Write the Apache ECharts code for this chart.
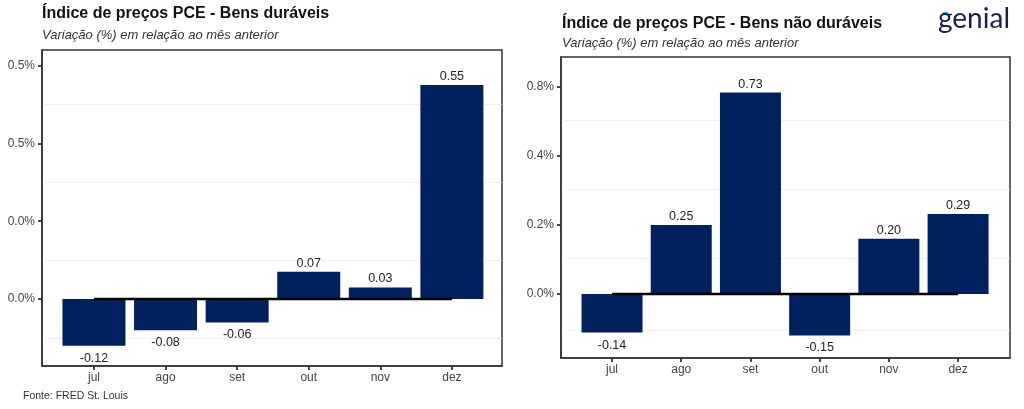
<!DOCTYPE html>
<html><head><meta charset="utf-8">
<script src="https://cdn.jsdelivr.net/npm/echarts@6/dist/echarts.min.js"></script>
<style>html,body{margin:0;padding:0;background:#fff}#c{width:1024px;height:409px}</style>
</head><body><div id="c"></div>
<script>
const months = ['jul','ago','set','out','nov','dez'];
const duraveis = [-0.12,-0.08,-0.06,0.07,0.03,0.55];
const naoDuraveis = [-0.14,0.25,0.73,-0.15,0.20,0.29];
const leftTicks = [0,0.2,0.4,0.6];
const leftTickLabels = ['0.0%','0.0%','0.5%','0.5%'];
const leftMinor = [-0.1,0.1,0.3,0.5];
const rightTicks = [0,0.25,0.5,0.75];
const rightTickLabels = ['0.0%','0.2%','0.4%','0.8%'];
const rightMinor = [-0.125,0.125,0.375,0.625];
const zeroLine = [0,0,0,0,0,0];

const FONT = '"Liberation Sans", Arial, sans-serif';
const NAVY = '#01215e';
const idx = months.map((m,i)=>i);

function lbl(ticks, labels){
  return v => { const k = ticks.findIndex(t=>Math.abs(t-v)<1e-9); return k>=0 ? labels[k] : ''; };
}
function xAx(gi,min,max){
  return {type:'value', gridIndex:gi, min:min, max:max,
    axisLine:{show:true,onZero:false,lineStyle:{color:'#333',width:1.5}},
    axisTick:{show:true,customValues:idx,length:4,lineStyle:{color:'#333',width:1.8}},
    axisLabel:{customValues:idx,formatter:v=>months[Math.round(v)],color:'#444',fontSize:12,fontFamily:FONT,margin:6},
    splitLine:{show:false}};
}
function yAx(gi,min,max,ticks,labels){
  return {type:'value', gridIndex:gi, min:min, max:max,
    axisLine:{show:true,onZero:false,lineStyle:{color:'#333',width:1.5}},
    axisTick:{show:true,customValues:ticks,length:4,lineStyle:{color:'#333',width:1.8}},
    axisLabel:{customValues:ticks,formatter:lbl(ticks,labels),color:'#444',fontSize:12,fontFamily:FONT,margin:7},
    splitLine:{show:false}};
}
function bars(gi,vals,w){
  return {type:'bar', xAxisIndex:gi, yAxisIndex:gi, barWidth:w, z:2,
    itemStyle:{color:NAVY},
    data: vals.map((v,i)=>({value:[i,v], label:{position: v<0?'bottom':'top', distance: v<0?6:2}})),
    label:{show:true, color:'#222', fontSize:12.5, fontFamily:FONT,
      formatter:p=>p.value[1].toFixed(2)}};
}
function zero(gi){
  return {type:'line', xAxisIndex:gi, yAxisIndex:gi, z:3, symbol:'none', silent:true,
    lineStyle:{color:'#000',width:2.5}, data: zeroLine.map((v,i)=>[i,v])};
}
function minor(gi,vals){
  return {type:'line', xAxisIndex:gi, yAxisIndex:gi, z:0, symbol:'none', silent:true, data:[],
    markLine:{z:0,silent:true,symbol:'none',label:{show:false},animation:false,
      lineStyle:{color:'#ececec',width:0.8,type:'solid'},
      data: vals.map(v=>({yAxis:v}))}};
}

const chart = echarts.init(document.getElementById('c'), null, {renderer:'canvas'});
chart.setOption({
  animation:false,
  backgroundColor:'#fff',
  title:[
    {text:'Índice de preços PCE - Bens duráveis', left:42, top:6, padding:0, textStyle:{fontFamily:FONT,fontWeight:'bold',fontSize:16,color:'#111'}},
    {text:'Variação (%) em relação ao mês anterior', left:42, top:29, padding:0, textStyle:{fontFamily:FONT,fontStyle:'italic',fontWeight:'normal',fontSize:13,color:'#333'}},
    {text:'Índice de preços PCE - Bens não duráveis', left:562, top:16, padding:0, textStyle:{fontFamily:FONT,fontWeight:'bold',fontSize:16,color:'#111'}},
    {text:'Variação (%) em relação ao mês anterior', left:562, top:37, padding:0, textStyle:{fontFamily:FONT,fontStyle:'italic',fontWeight:'normal',fontSize:13,color:'#333'}},
    {text:'Fonte: FRED St. Louis', left:23, top:391, padding:0, textStyle:{fontFamily:FONT,fontWeight:'normal',fontSize:10.5,color:'#333'}},
    {text:'genial', left:938, top:5, padding:0, textStyle:{fontFamily:'Lato, "Open Sans", sans-serif',fontWeight:'normal',fontSize:28,color:'#1b1f4e'}}
  ],
  graphic:[
    {type:'rect', shape:{x:943,y:12,width:5,height:2}, style:{fill:'#29b6e8'}}
  ],
  grid:[
    {left:42, top:50, width:460, height:316, show:true, borderColor:'#333', borderWidth:1.5, backgroundColor:'#fff'},
    {left:561, top:57, width:449, height:301, show:true, borderColor:'#333', borderWidth:1.5, backgroundColor:'#fff'}
  ],
  xAxis:[xAx(0,-0.726,5.70), xAx(1,-0.737,5.75)],
  yAxis:[yAx(0,-0.172,0.64,leftTicks,leftTickLabels), yAx(1,-0.232,0.859,rightTicks,rightTickLabels)],
  series:[
    minor(0,leftMinor), minor(1,rightMinor),
    bars(0,duraveis,63), bars(1,naoDuraveis,61),
    zero(0), zero(1)
  ]
});
</script></body></html>
